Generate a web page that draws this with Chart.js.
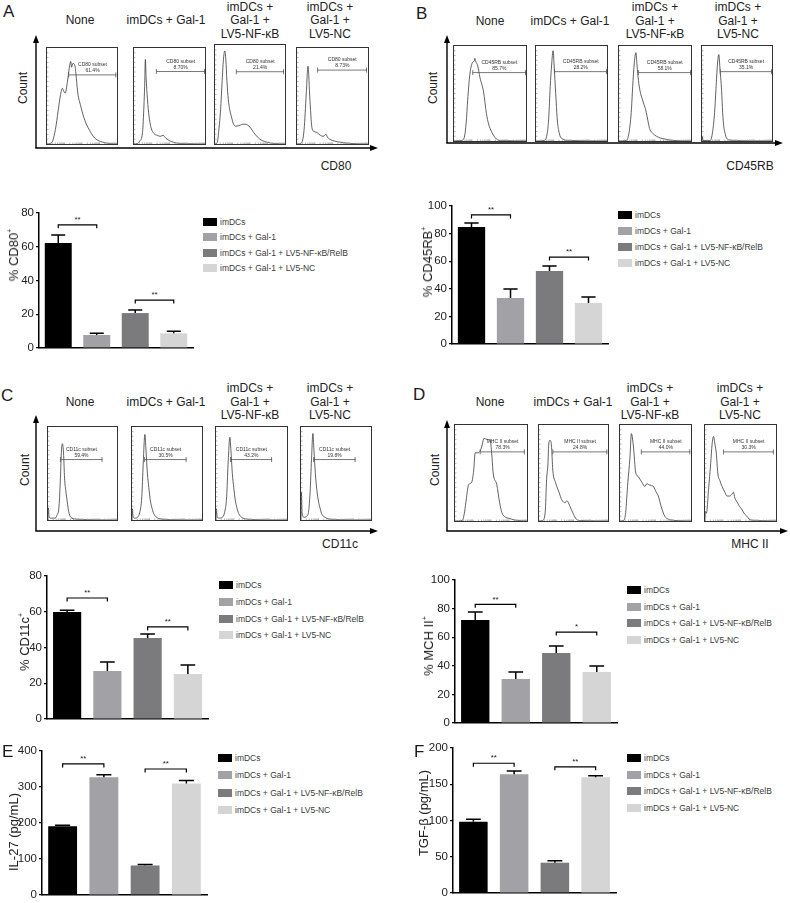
<!DOCTYPE html>
<html>
<head>
<meta charset="utf-8">
<script src="https://cdn.jsdelivr.net/npm/chart.js@4.4.1/dist/chart.umd.min.js"></script>
<style>
  html, body { margin: 0; padding: 0; background: #fff; }
  body { width: 790px; height: 903px; position: relative; overflow: hidden;
         font-family: "Liberation Sans", Arial, Helvetica, sans-serif; color: #1a1a1a; }
  .letter { position: absolute; font-size: 17px; line-height: 17px; }
  .ttl { position: absolute; font-size: 12px; line-height: 13.5px; text-align: center; color: #222;
         white-space: nowrap; transform: translateX(-50%); }
  .ctr { position: absolute; white-space: nowrap; transform: translate(-50%, -50%); line-height: 1; color: #222; }
  .rot { position: absolute; white-space: nowrap; transform: translate(-50%, -50%) rotate(-90deg); line-height: 1; color: #222; }
  .rot sup { font-size: 7px; vertical-align: 6px; }
  .hbox { position: absolute; border: 1px solid #333; box-sizing: border-box; }
  .bwrap { position: absolute; }
  canvas { display: block; }
  .leg { position: absolute; font-size: 8.5px; line-height: 1; white-space: nowrap; color: #3a3a3a; transform: translateY(-50%); }
  .sw { position: absolute; width: 14px; height: 8px; transform: translateY(-50%); }
  svg { position: absolute; left: 0; top: 0; }
</style>
</head>
<body>
<svg id="axes" width="790" height="903"></svg>
<script>
// --- data ---
const groups = ['imDCs', 'imDCs + Gal-1', 'imDCs + Gal-1 + LV5-NF-κB/RelB', 'imDCs + Gal-1 + LV5-NC'];
const flowTitles = [['None'], ['imDCs + Gal-1'], ['imDCs +', 'Gal-1 +', 'LV5-NF-κB'], ['imDCs +', 'Gal-1 +', 'LV5-NC']];

// flow histograms: [fluorescence %, count %]
const cd80None = [[0,0],[4,0.5],[8,3],[12,15],[16,35],[19,50],[22,58],[24,55],[26,53],[29,64],[32,80],[34,86],[35,80],[37,84],[40,81],[42,68],[44,53],[48,40],[52,29],[56,21],[61,14],[66,8],[70,5],[79,2],[90,0.5],[100,0]];
const cd80Gal  = [[0,0],[5,0.5],[8,3],[12,12],[14,40],[15,60],[16,88],[17,70],[19,46],[21,30],[24,17],[28,11],[33,9],[37,8],[41,9],[45,6],[51,3],[60,1],[75,0.3],[100,0]];
const cd80Nfkb = [[0,0],[3,1],[5.6,15],[8,35],[10,61],[12,85],[14,94],[15.5,85],[17,64],[19,45],[21,35],[24,26],[26.5,20],[30,18],[36,19],[40,20],[43,20],[47,19],[50,17],[54,13],[57,10],[64,5],[73,2],[85,0.5],[100,0]];
const cd80Nc   = [[0,0],[6,1],[10,15],[13,52],[15.5,81],[18,49],[21,17],[24,13],[28,12],[33,9],[37,8],[41,10],[43,7],[46,5],[53,3],[60,2],[75,0.5],[100,0]];

const cd45None = [[0,0],[10,0.5],[14,3],[17,20],[19,43],[22,70],[26,83],[28,84],[29,87],[30,84],[33,79],[36,67],[41,52],[45,29],[48,18],[52,10],[59,2],[66,0.5],[100,0]];
const cd45Gal  = [[0,0],[12,0.5],[16,9],[18,25],[20,57],[22,80],[24,95],[25.5,80],[27,60],[28.5,40],[30,22],[32,11],[34,5],[38,2],[44,0.5],[100,0]];
const cd45Nfkb = [[0,0],[10,0.5],[14,9],[17,30],[19,57],[21,80],[23.5,93],[25,80],[26,71],[28,58],[30,50],[32,45],[34,40],[37,33],[39,26],[41,18],[43,12],[47,8],[52,5],[58,3],[64,2],[75,0.5],[100,0]];
const cd45Nc   = [[0,0],[0.5,5],[1.5,0.5],[12,0.5],[15,9],[18,30],[20,55],[22,80],[24,91],[25.5,78],[28,53],[29.5,30],[31,16],[33,8],[35,3],[40,1],[50,0.3],[100,0]];

const cd11None = [[0,0],[0.5,13],[1.5,4],[4,2],[10,2],[13,5],[16,15],[18,45],[19.5,75],[21,82],[22.5,72],[24,45],[26,30],[28,19],[30,9],[33,3],[40,1],[55,0.3],[100,0]];
const cd11Gal  = [[0,0],[0.5,12],[1.5,4],[4,2],[8,3],[11,8],[14,25],[16,60],[18.4,92],[20,75],[22,50],[24,35],[26,22],[28.5,13],[31,7],[35,3],[42,1],[55,0.3],[100,0]];
const cd11Nfkb = [[0,0],[0.5,12],[1.5,4],[4,2],[9,3],[12,8],[15,25],[17,60],[19.5,89],[21,75],[23,50],[25,35],[27,22],[29.5,13],[32,7],[36,3],[43,1],[55,0.3],[100,0]];
const cd11Nc   = [[0,0],[0.5,30],[1.5,8],[4,3],[8,4],[11,10],[13,30],[15,65],[17,93],[18.5,75],[20.5,50],[22.5,33],[25,20],[27.5,12],[30,6],[34,3],[40,1],[55,0.3],[100,0]];

const mhcNone = [[0,0],[10,0.5],[13,8],[15,19],[19,38],[23,40],[26,53],[28,71],[32,71],[35,73],[38,80],[40,86],[45,85],[49,84],[51,70],[53,50],[58,38],[62,19],[65,9],[70,4],[74,3],[83,1],[100,0]];
const mhcGal  = [[0,0],[5,0.5],[9,9],[11,43],[13,60],[14,79],[16,84],[18,79],[20,53],[24,40],[29,30],[33,22],[38,19],[40,21],[42,20],[45,15],[50,7],[54,2],[60,0.5],[100,0]];
const mhcNfkb = [[0,0],[5,0.5],[8,9],[11,40],[14,66],[16,91],[19,77],[22,51],[26,46],[31,40],[35,36],[38,39],[40,38],[44,37],[47,36],[51,30],[54,26],[58,15],[63,5],[68,2],[72,1],[100,0]];
const mhcNc   = [[0,0],[0.5,10],[2,8],[5,33],[8,60],[10,80],[12,88],[14,80],[16,70],[18,50],[21,42],[24,36],[28,30],[31,26],[35,26],[38,28],[40,30],[42,24],[45,20],[48,16],[52,12],[56,7],[59,5],[62,2],[65,1],[80,0.3],[100,0]];

// gates: [from %, to %, level %]
const cd80Gates = [[31,99,72],[31.5,100,75.5],[30.5,98.6,73],[29,98.6,77]];
const cd45Gates = [[26,100,72],[26,100,73],[27,100,72],[26,100,73]];
const cd11Gates = [[18,79,65],[18,78,65],[20.5,79,65],[18,78,65]];
const mhcGates  = [[35,97,72],[20,99,72],[30,99,72],[26,97,72]];
const cd80Pct = ['61.4%', '8.70%', '21.4%', '8.73%'];
const cd45Pct = ['85.7%', '28.2%', '58.1%', '35.1%'];
const cd11Pct = ['59.4%', '30.5%', '43.2%', '19.8%'];
const mhcPct  = ['78.3%', '24.8%', '44.0%', '30.3%'];

// bar charts: mean and SD per group
const cd80Mean = [62.2, 7.7, 20.7, 8.7];
const cd80Sd   = [4.8, 1.0, 1.8, 1.3];
const cd45Mean = [84.8, 33.3, 52.9, 29.7];
const cd45Sd   = [2.9, 6.5, 3.6, 4.3];
const cd11Mean = [59.9, 26.9, 45.3, 25.2];
const cd11Sd   = [1.0, 5.0, 2.2, 5.0];
const mhcMean  = [72.0, 30.8, 49.0, 35.7];
const mhcSd    = [5.6, 4.9, 4.9, 4.2];
const il27Mean = [191, 327, 82, 310];
const il27Sd   = [3, 7, 3, 8];
const tgfMean  = [98.3, 163.7, 41.8, 159.6];
const tgfSd    = [3.3, 4.5, 2.8, 2.0];

// significance: [group a, group b, bracket level, mark]
const cd80Sig = [[0, 1, 73, '**'], [2, 3, 28.4, '**']];
const cd45Sig = [[0, 1, 93.5, '**'], [2, 3, 63, '**']];
const cd11Sig = [[0, 1, 67.7, '**'], [2, 3, 51.5, '**']];
const mhcSig  = [[0, 1, 83, '**'], [2, 3, 63.6, '*']];
const il27Sig = [[0, 1, 364, '**'], [2, 3, 350, '**']];
const tgfSig  = [[0, 1, 179, '**'], [2, 3, 174, '**']];

const barColors = ['#000000', '#a2a2a6', '#7b7b7d', '#d5d5d5'];
const FONT = '"Liberation Sans", Arial, Helvetica, sans-serif';

// --- helpers ---
function addDiv(cls, x, y, html, extra) {
  const d = document.createElement('div');
  d.className = cls;
  d.style.left = x + 'px';
  d.style.top = y + 'px';
  d.innerHTML = html;
  if (extra) Object.assign(d.style, extra);
  document.body.appendChild(d);
  return d;
}

let svgParts = '';
function arrowAxes(a) {
  svgParts += `<line x1="${a.vx}" y1="${a.hy}" x2="${a.vx}" y2="${a.vTop + 6}" stroke="#000" stroke-width="1.4"/>`;
  svgParts += `<polygon points="${a.vx},${a.vTop} ${a.vx - 3},${a.vTop + 8} ${a.vx + 3},${a.vTop + 8}" fill="#000"/>`;
  svgParts += `<line x1="${a.vx - 0.7}" y1="${a.hy}" x2="${a.hRight - 6}" y2="${a.hy}" stroke="#000" stroke-width="1.4"/>`;
  svgParts += `<polygon points="${a.hRight},${a.hy} ${a.hRight - 8},${a.hy - 3} ${a.hRight - 8},${a.hy + 3}" fill="#000"/>`;
}

// minor tick positions along a log-like fluorescence axis
const logTicks = [];
for (let d = 0; d < 4; d++) {
  for (let m = 1; m < 10; m++) logTicks.push(d * 25 + Math.log10(m) * 25);
}

function makeHist(box, pts, gate, pct, marker) {
  const wrap = document.createElement('div');
  wrap.className = 'hbox';
  wrap.style.left = box[0] + 'px';
  wrap.style.top = box[1] + 'px';
  wrap.style.width = (box[2] - box[0]) + 'px';
  wrap.style.height = (box[3] - box[1]) + 'px';
  const cv = document.createElement('canvas');
  wrap.appendChild(cv);
  document.body.appendChild(wrap);

  const gatePlugin = {
    id: 'gate',
    afterDatasetsDraw(chart) {
      const { ctx, chartArea: a, scales: { x, y } } = chart;
      ctx.save();
      // edge ticks
      ctx.strokeStyle = '#a0a0a0';
      ctx.lineWidth = 0.8;
      ctx.beginPath();
      for (let v = 5; v < 100; v += 5) {
        const yy = y.getPixelForValue(v);
        ctx.moveTo(a.left, yy); ctx.lineTo(a.left + 1.5, yy);
      }
      logTicks.forEach(v => {
        const xx = x.getPixelForValue(v);
        ctx.moveTo(xx, a.bottom); ctx.lineTo(xx, a.bottom - 1.5);
      });
      ctx.stroke();
      // gate
      const x1 = x.getPixelForValue(gate[0]);
      const x2 = x.getPixelForValue(gate[1]);
      const yy = y.getPixelForValue(gate[2]);
      ctx.strokeStyle = '#555';
      ctx.lineWidth = 0.8;
      ctx.beginPath();
      ctx.moveTo(x1, yy); ctx.lineTo(x2, yy);
      ctx.moveTo(x1, yy - 2.5); ctx.lineTo(x1, yy + 2.5);
      ctx.moveTo(x2 - 0.5, yy - 2.5); ctx.lineTo(x2 - 0.5, yy + 2.5);
      ctx.stroke();
      ctx.fillStyle = '#333';
      ctx.font = '5px ' + FONT;
      ctx.textAlign = 'center';
      ctx.textBaseline = 'alphabetic';
      const cx = (x1 + x2) / 2;
      ctx.fillText(marker + ' subset', cx, yy - 9);
      ctx.fillText(pct, cx, yy - 3);
      ctx.restore();
    }
  };

  new Chart(cv, {
    type: 'line',
    data: {
      datasets: [{
        data: pts.map(p => ({ x: p[0], y: p[1] })),
        borderColor: '#3a3a3a',
        borderWidth: 0.8,
        pointRadius: 0,
        cubicInterpolationMode: 'monotone',
        fill: false,
      }]
    },
    options: {
      animation: false,
      responsive: true,
      maintainAspectRatio: false,
      layout: { padding: 0 },
      plugins: { legend: { display: false }, tooltip: { enabled: false } },
      scales: {
        x: { type: 'linear', min: 0, max: 100, display: false },
        y: { min: 0, max: 100, display: false },
      }
    },
    plugins: [gatePlugin]
  });
}

function flowPanel(p) {
  addDiv('letter', p.letter[0], p.letter[1], p.name);
  flowTitles.forEach((t, i) => {
    const top = t.length === 1 ? p.titleTop + 13.5 : p.titleTop;
    addDiv('ttl', p.titleX[i], top, t.join('<br>'));
  });
  arrowAxes(p.axis);
  addDiv('rot', p.count[0], p.count[1], 'Count', { fontSize: '12px' });
  addDiv('ctr', p.markerPos[0], p.markerPos[1], p.marker, { fontSize: '12px' });
  p.boxes.forEach((b, i) => makeHist(b, p.hists[i], p.gates[i], p.pct[i], p.marker));
}

function makeBar(p) {
  const yW = 30, padT = 9, padB = 9, padR = 2;
  const wrap = document.createElement('div');
  wrap.className = 'bwrap';
  wrap.style.left = (p.left - yW) + 'px';
  wrap.style.top = (p.top - padT) + 'px';
  wrap.style.width = (p.right - p.left + yW + padR) + 'px';
  wrap.style.height = (p.bottom - p.top + padT + padB) + 'px';
  const cv = document.createElement('canvas');
  wrap.appendChild(cv);
  document.body.appendChild(wrap);

  const extras = {
    id: 'extras',
    afterDatasetsDraw(chart) {
      const ctx = chart.ctx;
      const meta = chart.getDatasetMeta(0);
      const y = chart.scales.y;
      ctx.save();
      ctx.strokeStyle = '#000';
      ctx.lineWidth = 1.5;
      meta.data.forEach((bar, i) => {
        const yTop = y.getPixelForValue(p.mean[i] + p.sd[i]);
        const half = bar.width * 0.26;
        ctx.beginPath();
        ctx.moveTo(bar.x, bar.y); ctx.lineTo(bar.x, yTop);
        ctx.moveTo(bar.x - half, yTop); ctx.lineTo(bar.x + half, yTop);
        ctx.stroke();
      });
      ctx.lineWidth = 1.2;
      ctx.fillStyle = '#222';
      ctx.font = '8px ' + FONT;
      ctx.textAlign = 'center';
      ctx.textBaseline = 'bottom';
      p.sig.forEach(s => {
        const x1 = meta.data[s[0]].x, x2 = meta.data[s[1]].x;
        const yy = y.getPixelForValue(s[2]);
        ctx.beginPath();
        ctx.moveTo(x1, yy + 3.5); ctx.lineTo(x1, yy); ctx.lineTo(x2, yy); ctx.lineTo(x2, yy + 3.5);
        ctx.stroke();
        ctx.fillText(s[3], (x1 + x2) / 2, yy - 1);
      });
      ctx.restore();
    }
  };

  new Chart(cv, {
    type: 'bar',
    data: {
      labels: groups,
      datasets: [{
        data: p.mean,
        backgroundColor: barColors,
        borderWidth: 0,
        barPercentage: 0.7,
        categoryPercentage: 1,
      }]
    },
    options: {
      animation: false,
      responsive: true,
      maintainAspectRatio: false,
      layout: { padding: { top: padT, bottom: padB, right: padR, left: 0 } },
      plugins: { legend: { display: false }, tooltip: { enabled: false } },
      scales: {
        x: {
          grid: { display: false },
          ticks: { display: false },
          border: { display: true, color: '#000', width: 1.5 },
          afterFit(s) { s.height = 0; }
        },
        y: {
          min: 0,
          max: p.max,
          ticks: { stepSize: p.step, color: '#222', padding: 2, font: { size: 11.5, family: FONT } },
          grid: { drawOnChartArea: false, drawTicks: true, tickLength: 3, color: '#000', lineWidth: 1.2 },
          border: { color: '#000', width: 1.5 },
          afterFit(s) { s.width = yW; }
        }
      }
    },
    plugins: [extras]
  });

  addDiv('rot', p.ylab[0], p.ylab[1], p.title, { fontSize: '13px' });
  groups.forEach((g, i) => {
    const yc = p.legend[1] + i * p.legend[2];
    addDiv('sw', p.legend[0], yc, '', { background: barColors[i] });
    addDiv('leg', p.legend[0] + 17, yc, g);
  });
  if (p.letter) addDiv('letter', p.letter[0], p.letter[1], p.name);
}

// --- flow panels ---
flowPanel({
  name: 'A', letter: [3, 3], marker: 'CD80', titleTop: 0.75, titleX: [80, 166, 250, 330],
  axis: { vx: 36, vTop: 35, hy: 148, hRight: 378 }, count: [23, 88], markerPos: [336, 166],
  boxes: [[46, 47, 118, 145], [133, 47, 206, 145], [214, 44, 286, 145], [296, 47, 369, 145]],
  hists: [cd80None, cd80Gal, cd80Nfkb, cd80Nc], gates: cd80Gates, pct: cd80Pct
});
flowPanel({
  name: 'B', letter: [416, 5], marker: 'CD45RB', titleTop: 1.25, titleX: [490, 570, 655, 738],
  axis: { vx: 447, vTop: 35, hy: 143, hRight: 783 }, count: [433, 88], markerPos: [750, 166],
  boxes: [[453, 45, 527, 142], [535, 45, 608, 142], [618, 45, 692, 142], [701, 45, 773, 142]],
  hists: [cd45None, cd45Gal, cd45Nfkb, cd45Nc], gates: cd45Gates, pct: cd45Pct
});
flowPanel({
  name: 'C', letter: [1, 387], marker: 'CD11c', titleTop: 382, titleX: [80, 166, 250, 330],
  axis: { vx: 36, vTop: 415, hy: 531, hRight: 378 }, count: [25, 470], markerPos: [340, 544],
  boxes: [[47, 426, 118, 521], [131, 426, 203, 521], [215, 426, 288, 521], [300, 426, 372, 521]],
  hists: [cd11None, cd11Gal, cd11Nfkb, cd11Nc], gates: cd11Gates, pct: cd11Pct
});
flowPanel({
  name: 'D', letter: [413, 386], marker: 'MHC II', titleTop: 382, titleX: [490, 573, 650, 740],
  axis: { vx: 447, vTop: 420, hy: 531, hRight: 788 }, count: [435, 470], markerPos: [750, 544],
  boxes: [[454, 424, 528, 522], [538, 424, 609, 522], [619, 424, 692, 522], [704, 424, 777, 522]],
  hists: [mhcNone, mhcGal, mhcNfkb, mhcNc], gates: mhcGates, pct: mhcPct
});
document.getElementById('axes').innerHTML = svgParts;

// --- bar panels ---
makeBar({ left: 39, right: 193, top: 213, bottom: 348, max: 80, step: 20,
  mean: cd80Mean, sd: cd80Sd, sig: cd80Sig, title: '% CD80<sup>+</sup>', ylab: [13, 255], legend: [203, 222, 15.4] });
makeBar({ left: 452, right: 608, top: 206, bottom: 344, max: 100, step: 20,
  mean: cd45Mean, sd: cd45Sd, sig: cd45Sig, title: '% CD45RB<sup>+</sup>', ylab: [427, 262], legend: [618, 215, 16] });
makeBar({ left: 47, right: 208, top: 576, bottom: 719, max: 80, step: 20,
  mean: cd11Mean, sd: cd11Sd, sig: cd11Sig, title: '% CD11c<sup>+</sup>', ylab: [24, 642], legend: [219, 585, 16.8] });
makeBar({ left: 455, right: 617, top: 580, bottom: 723, max: 100, step: 20,
  mean: mhcMean, sd: mhcSd, sig: mhcSig, title: '% MCH II<sup>+</sup>', ylab: [428, 646], legend: [627, 590, 16.7] });
makeBar({ name: 'E', letter: [2, 743], left: 42, right: 207, top: 751, bottom: 895, max: 400, step: 100,
  mean: il27Mean, sd: il27Sd, sig: il27Sig, title: 'IL-27 (pg/mL)', ylab: [13, 832], legend: [218, 758, 17.3] });
makeBar({ name: 'F', letter: [414, 743], left: 453, right: 616, top: 748, bottom: 893, max: 200, step: 50,
  mean: tgfMean, sd: tgfSd, sig: tgfSig, title: 'TGF-β (pg/mL)', ylab: [423, 813], legend: [627, 758, 16.7] });
</script>
</body>
</html>
